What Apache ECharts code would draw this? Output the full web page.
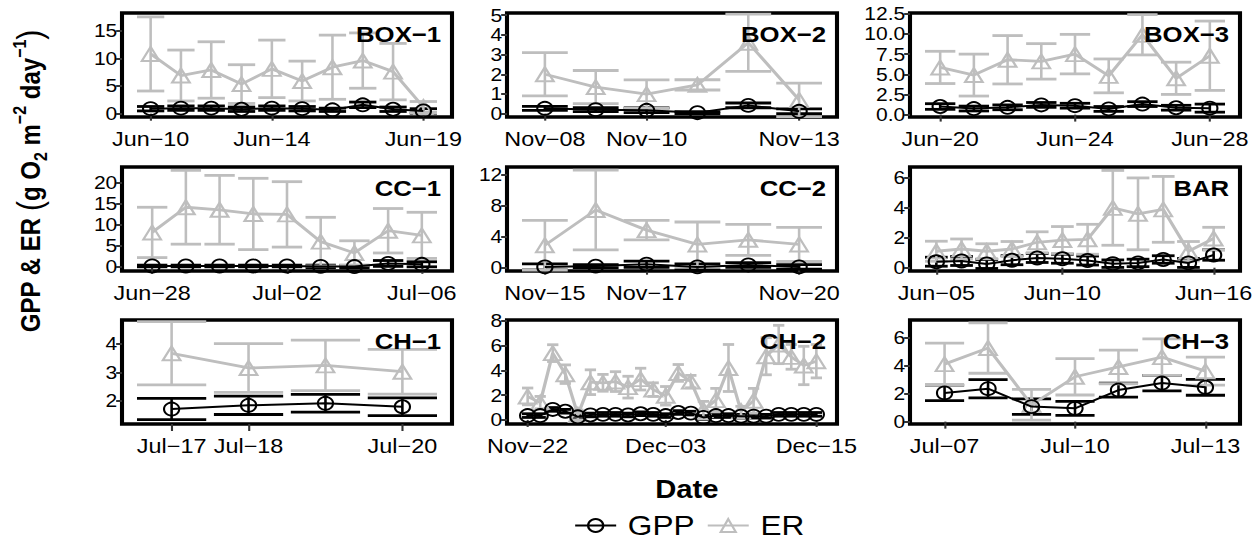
<!DOCTYPE html>
<html>
<head>
<meta charset="utf-8">
<script src="https://cdn.jsdelivr.net/npm/echarts@6/dist/echarts.min.js"></script>
<style>
  html, body { margin: 0; padding: 0; background: #fff; overflow: hidden; }
  #wrap { width: 1260px; height: 548px; overflow: hidden; }
  /* the figure is drawn on a narrower canvas and widened to the page width */
  #chart { height: 548px; transform-origin: 0 0; }
</style>
</head>
<body>
<div id="wrap"><div id="chart"></div></div>
<script>
// ---- Daily GPP and ER (g O2 m-2 day-1), mean and error per site ----

const box1Dates = ['2018-06-10','2018-06-11','2018-06-12','2018-06-13','2018-06-14','2018-06-15','2018-06-16','2018-06-17','2018-06-18','2018-06-19'];
const box1Gpp   = [0.9, 1.0, 1.0, 0.8, 1.0, 0.9, 0.7, 1.6, 0.8, 0.5];
const box1GppSd = [0.4, 0.4, 0.4, 0.4, 0.4, 0.4, 0.3, 0.5, 0.4, 0.4];
const box1Er    = [10.8, 6.9, 7.9, 5.35, 8.1, 5.9, 8.4, 9.6, 7.6, 1.2];
const box1ErSd  = [6.7, 4.6, 5.1, 3.5, 5.2, 3.6, 5.8, 5.0, 5.1, 1.0];
const box1XTicks = ['2018-06-10', '2018-06-14', '2018-06-19'];
const box1YTicks = ['0', '5', '10', '15'];

const box2Dates = ['2018-11-08','2018-11-09','2018-11-10','2018-11-11','2018-11-12','2018-11-13'];
const box2Gpp   = [0.27, 0.2, 0.17, 0.05, 0.42, 0.12];
const box2GppSd = [0.1, 0.1, 0.12, 0.05, 0.12, 0.12];
const box2Er    = [2.0, 1.35, 0.99, 1.46, 3.6, 0.7];
const box2ErSd  = [1.1, 0.84, 0.72, 0.26, 1.45, 0.85];
const box2XTicks = ['2018-11-08', '2018-11-10', '2018-11-13'];
const box2YTicks = ['0', '1', '2', '3', '4', '5'];

const box3Dates = ['2018-06-20','2018-06-21','2018-06-22','2018-06-23','2018-06-24','2018-06-25','2018-06-26','2018-06-27','2018-06-28'];
const box3Gpp   = [1.0, 0.75, 0.9, 1.2, 1.1, 0.7, 1.3, 0.85, 0.8];
const box3GppSd = [0.35, 0.3, 0.3, 0.3, 0.3, 0.3, 0.3, 0.3, 0.5];
const box3Er    = [5.85, 4.9, 6.8, 6.6, 7.5, 4.8, 9.9, 4.5, 7.3];
const box3ErSd  = [2.0, 2.6, 3.0, 2.2, 2.45, 2.1, 2.5, 2.0, 4.3];
const box3XTicks = ['2018-06-20', '2018-06-24', '2018-06-28'];
const box3YTicks = ['0.0', '2.5', '5.0', '7.5', '10.0', '12.5'];

const cc1Dates = ['2018-06-28','2018-06-29','2018-06-30','2018-07-01','2018-07-02','2018-07-03','2018-07-04','2018-07-05','2018-07-06'];
const cc1Gpp   = [0.2, 0.2, 0.2, 0.2, 0.2, 0.1, 0.05, 0.8, 0.6];
const cc1GppSd = [0.2, 0.2, 0.2, 0.2, 0.2, 0.3, 0.3, 0.7, 0.6];
const cc1Er    = [8.2, 14.2, 13.6, 12.6, 12.5, 6.0, 3.3, 8.6, 7.5];
const cc1ErSd  = [6.0, 8.8, 8.2, 8.5, 7.8, 5.8, 2.9, 5.3, 5.5];
const cc1XTicks = ['2018-06-28', '2018-07-02', '2018-07-06'];
const cc1YTicks = ['0', '5', '10', '15', '20'];

const cc2Dates = ['2018-11-15','2018-11-16','2018-11-17','2018-11-18','2018-11-19','2018-11-20'];
const cc2Gpp   = [0.1, 0.2, 0.45, 0.1, 0.35, 0.1];
const cc2GppSd = [0.4, 0.2, 0.4, 0.4, 0.3, 0.3];
const cc2Er    = [2.9, 7.45, 4.85, 3.0, 3.6, 3.0];
const cc2ErSd  = [3.2, 5.15, 1.25, 2.9, 2.0, 2.2];
const cc2XTicks = ['2018-11-15', '2018-11-17', '2018-11-20'];
const cc2YTicks = ['0', '4', '8', '12'];

const barDates = ['2018-06-05','2018-06-06','2018-06-07','2018-06-08','2018-06-09','2018-06-10','2018-06-11','2018-06-12','2018-06-13','2018-06-14','2018-06-15','2018-06-16'];
const barGpp   = [0.4, 0.45, 0.25, 0.5, 0.65, 0.6, 0.48, 0.27, 0.32, 0.55, 0.32, 0.85];
const barGppSd = [0.3, 0.3, 0.3, 0.3, 0.3, 0.3, 0.3, 0.25, 0.25, 0.25, 0.3, 0.35];
const barEr    = [1.1, 1.25, 1.1, 1.25, 1.7, 1.85, 1.9, 4.0, 3.6, 3.9, 1.1, 1.95];
const barErSd  = [0.67, 0.67, 0.5, 0.5, 0.7, 0.9, 1.0, 2.5, 2.4, 2.2, 0.65, 0.75];
const barXTicks = ['2018-06-05', '2018-06-10', '2018-06-16'];
const barYTicks = ['0', '2', '4', '6'];

const ch1Dates = ['2018-07-17','2018-07-18','2018-07-19','2018-07-20'];
const ch1Gpp   = [1.72, 1.85, 1.92, 1.8];
const ch1GppSd = [0.37, 0.32, 0.31, 0.31];
const ch1Er    = [3.66, 3.15, 3.24, 3.02];
const ch1ErSd  = [1.1, 0.85, 0.88, 0.78];
const ch1XTicks = ['2018-07-17', '2018-07-18', '2018-07-20'];
const ch1YTicks = ['2', '3', '4'];

const ch2Dates = ['2018-11-22','2018-11-23','2018-11-24','2018-11-25','2018-11-26','2018-11-27','2018-11-28','2018-11-29','2018-11-30','2018-12-01','2018-12-02','2018-12-03',
                  '2018-12-04','2018-12-05','2018-12-06','2018-12-07','2018-12-08','2018-12-09','2018-12-10','2018-12-11','2018-12-12','2018-12-13','2018-12-14','2018-12-15'];
const ch2Gpp   = [0.35, 0.35, 0.85, 0.7, 0.25, 0.4, 0.45, 0.45, 0.4, 0.5, 0.45, 0.35, 0.6, 0.55, 0.2, 0.35, 0.35, 0.3, 0.3, 0.3, 0.45, 0.45, 0.45, 0.45];
const ch2GppSd = [0.15, 0.15, 0.15, 0.15, 0.15, 0.15, 0.15, 0.15, 0.15, 0.15, 0.15, 0.15, 0.15, 0.15, 0.15, 0.15, 0.15, 0.15, 0.15, 0.15, 0.15, 0.15, 0.15, 0.15];
const ch2Er    = [1.9, 1.4, 5.4, 3.7, 0.4, 3.05, 3.0, 3.1, 2.65, 3.3, 2.45, 1.95, 3.8, 3.1, 0.8, 1.6, 4.2, 0.7, 1.55, 5.15, 6.1, 5.1, 4.4, 4.75];
const ch2ErSd  = [0.68, 0.5, 0.68, 0.75, 0.4, 1.0, 0.68, 0.8, 0.88, 0.88, 0.55, 0.75, 0.68, 0.5, 0.7, 0.95, 1.9, 0.4, 1.0, 1.5, 1.55, 1.0, 1.55, 1.35];
const ch2XTicks = ['2018-11-22', '2018-12-03', '2018-12-15'];
const ch2YTicks = ['0', '2', '4', '6', '8'];

const ch3Dates = ['2018-07-07','2018-07-08','2018-07-09','2018-07-10','2018-07-11','2018-07-12','2018-07-13'];
const ch3Gpp   = [2.05, 2.35, 1.07, 0.95, 2.25, 2.75, 2.45];
const ch3GppSd = [0.55, 0.65, 0.55, 0.5, 0.5, 0.55, 0.57];
const ch3Er    = [4.1, 5.25, 1.2, 3.2, 3.9, 4.6, 3.6];
const ch3ErSd  = [1.5, 1.8, 1.1, 1.3, 1.2, 1.3, 1.0];
const ch3XTicks = ['2018-07-07', '2018-07-10', '2018-07-13'];
const ch3YTicks = ['0', '2', '4', '6'];

// Visible value range of each panel's y axis
const yLimits = [[-0.6, 18.2], [-0.17, 5.11], [-0.3, 12.6],
                 [-1.0, 23.8], [-0.43, 13.0], [-0.22, 6.73],
                 [1.2, 4.82], [-0.33, 8.08], [-0.17, 7.25]];

const panels = [
  { name: 'BOX\u22121', dates: box1Dates, gpp: box1Gpp, gppSd: box1GppSd, er: box1Er, erSd: box1ErSd, xTicks: box1XTicks, yTicks: box1YTicks },
  { name: 'BOX\u22122', dates: box2Dates, gpp: box2Gpp, gppSd: box2GppSd, er: box2Er, erSd: box2ErSd, xTicks: box2XTicks, yTicks: box2YTicks },
  { name: 'BOX\u22123', dates: box3Dates, gpp: box3Gpp, gppSd: box3GppSd, er: box3Er, erSd: box3ErSd, xTicks: box3XTicks, yTicks: box3YTicks },
  { name: 'CC\u22121',  dates: cc1Dates,  gpp: cc1Gpp,  gppSd: cc1GppSd,  er: cc1Er,  erSd: cc1ErSd,  xTicks: cc1XTicks,  yTicks: cc1YTicks },
  { name: 'CC\u22122',  dates: cc2Dates,  gpp: cc2Gpp,  gppSd: cc2GppSd,  er: cc2Er,  erSd: cc2ErSd,  xTicks: cc2XTicks,  yTicks: cc2YTicks },
  { name: 'BAR',        dates: barDates,  gpp: barGpp,  gppSd: barGppSd,  er: barEr,  erSd: barErSd,  xTicks: barXTicks,  yTicks: barYTicks },
  { name: 'CH\u22121',  dates: ch1Dates,  gpp: ch1Gpp,  gppSd: ch1GppSd,  er: ch1Er,  erSd: ch1ErSd,  xTicks: ch1XTicks,  yTicks: ch1YTicks },
  { name: 'CH\u22122',  dates: ch2Dates,  gpp: ch2Gpp,  gppSd: ch2GppSd,  er: ch2Er,  erSd: ch2ErSd,  xTicks: ch2XTicks,  yTicks: ch2YTicks },
  { name: 'CH\u22123',  dates: ch3Dates,  gpp: ch3Gpp,  gppSd: ch3GppSd,  er: ch3Er,  erSd: ch3ErSd,  xTicks: ch3XTicks,  yTicks: ch3YTicks }
];

// ---- Layout (page pixels; divided by the horizontal stretch for the canvas) ----
const STRETCH = 1.17;
const PAGE_W = 1260;
const CANVAS_W = PAGE_W / STRETCH;
const sx = function (v) { return v / STRETCH; };

const FONT = '"Liberation Sans", Arial, Helvetica, sans-serif';
const colLeft = [122, 507, 910];
const colWidth = 330;
const rowTop = [13, 167, 320];
const rowHeight = 104;
const GPP_COLOR = '#000000';
const ER_COLOR = '#bebebe';
const CAP_DAYS = 0.9;          // error bar cap width in days
const MONTHS = ['Jan','Feb','Mar','Apr','May','Jun','Jul','Aug','Sep','Oct','Nov','Dec'];

const chartEl = document.getElementById('chart');
chartEl.style.width = CANVAS_W + 'px';
chartEl.style.transform = 'scaleX(' + STRETCH + ')';

const DAY_MS = 86400000;
function toDay(s) {
  const p = s.split('-').map(Number);
  return Date.UTC(p[0], p[1] - 1, p[2]) / DAY_MS;
}
function dayLabel(d) {
  const dt = new Date(Math.round(d) * DAY_MS);
  const dd = String(dt.getUTCDate()).padStart(2, '0');
  return MONTHS[dt.getUTCMonth()] + '\u2212' + dd;
}

function errorBarRenderer(color) {
  return function (params, api) {
    const x = api.value(0), lo = api.value(1), hi = api.value(2);
    const pLo = api.coord([x, lo]);
    const pHi = api.coord([x, hi]);
    const pL = api.coord([x - CAP_DAYS / 2, lo]);
    const pR = api.coord([x + CAP_DAYS / 2, lo]);
    const half = (pR[0] - pL[0]) / 2;
    const capStyle = { stroke: color, lineWidth: 2.8, fill: null };
    return {
      type: 'group',
      children: [
        { type: 'line', shape: { x1: pLo[0], y1: pLo[1], x2: pHi[0], y2: pHi[1] }, style: { stroke: color, lineWidth: 2.2, fill: null } },
        { type: 'line', shape: { x1: pLo[0] - half, y1: pLo[1], x2: pLo[0] + half, y2: pLo[1] }, style: capStyle },
        { type: 'line', shape: { x1: pHi[0] - half, y1: pHi[1], x2: pHi[0] + half, y2: pHi[1] }, style: capStyle }
      ]
    };
  };
}

const grids = [], xAxes = [], yAxes = [], series = [], titles = [];

panels.forEach(function (p, i) {
  const col = i % 3, row = Math.floor(i / 3);
  const left = sx(colLeft[col]);
  const width = sx(colWidth);
  const top = rowTop[row];
  grids.push({
    left: left, top: top, width: width, height: rowHeight,
    show: true, borderColor: '#000', borderWidth: 3.5, backgroundColor: '#fff'
  });

  const days = p.dates.map(toDay);
  const lo = days[0] - CAP_DAYS / 2, hi = days[days.length - 1] + CAP_DAYS / 2;
  const pad = (hi - lo) * 0.05;
  const xTickDays = p.xTicks.map(toDay);
  const yTickVals = p.yTicks.map(Number);

  xAxes.push({
    type: 'value', gridIndex: i, min: lo - pad, max: hi + pad,
    axisLine: { show: false },
    splitLine: { show: false },
    axisTick: { show: true, length: 7, inside: false, customValues: xTickDays,
                lineStyle: { color: '#333', width: 1.8 } },
    axisLabel: { customValues: xTickDays, formatter: dayLabel, margin: 12,
                 color: '#000', fontSize: 20, fontFamily: FONT, showMinLabel: true, showMaxLabel: true }
  });
  yAxes.push({
    type: 'value', gridIndex: i, min: yLimits[i][0], max: yLimits[i][1],
    axisLine: { show: false },
    splitLine: { show: false },
    axisTick: { show: true, length: 5, inside: false, customValues: yTickVals,
                lineStyle: { color: '#333', width: 2 } },
    axisLabel: { customValues: yTickVals, margin: 4, color: '#000', fontSize: 18, lineHeight: 16,
                 fontFamily: FONT, showMinLabel: true, showMaxLabel: true, hideOverlap: false,
                 formatter: function (v) {
                   const k = yTickVals.findIndex(function (t) { return Math.abs(t - v) < 1e-9; });
                   return k >= 0 ? p.yTicks[k] : '';
                 } }
  });

  const gppBars = days.map(function (d, k) { return [d, p.gpp[k] - p.gppSd[k], p.gpp[k] + p.gppSd[k]]; });
  const erBars  = days.map(function (d, k) { return [d, p.er[k] - p.erSd[k], p.er[k] + p.erSd[k]]; });

  series.push({
    type: 'custom', xAxisIndex: i, yAxisIndex: i, renderItem: errorBarRenderer(GPP_COLOR),
    data: gppBars, encode: { x: 0, y: [1, 2] }, z: 1, silent: true
  });
  series.push({
    type: 'custom', xAxisIndex: i, yAxisIndex: i, renderItem: errorBarRenderer(ER_COLOR),
    data: erBars, encode: { x: 0, y: [1, 2] }, z: 1, silent: true
  });
  series.push({
    name: 'GPP', type: 'line', xAxisIndex: i, yAxisIndex: i,
    data: days.map(function (d, k) { return [d, p.gpp[k]]; }),
    symbol: 'circle', symbolSize: 13, showSymbol: true,
    lineStyle: { color: GPP_COLOR, width: 2 },
    itemStyle: { color: 'rgba(0,0,0,0)', borderColor: GPP_COLOR, borderWidth: 1.8 },
    z: 3, clip: false
  });
  series.push({
    name: 'ER', type: 'line', xAxisIndex: i, yAxisIndex: i,
    data: days.map(function (d, k) { return [d, p.er[k]]; }),
    symbol: 'triangle', symbolSize: [15, 14], showSymbol: true,
    lineStyle: { color: ER_COLOR, width: 2.8 },
    itemStyle: { color: 'rgba(0,0,0,0)', borderColor: ER_COLOR, borderWidth: 2 },
    z: 2, clip: false
  });

  titles.push({
    text: p.name, right: CANVAS_W - (left + width) + sx(5), top: top + 5,
    textStyle: { fontFamily: FONT, fontWeight: 'bold', fontSize: 22, color: '#000' }
  });
});

titles.push({
  text: 'Date', left: sx((colLeft[0] + colLeft[2] + colWidth) / 2), top: 472, textAlign: 'center',
  textStyle: { fontFamily: FONT, fontWeight: 'bold', fontSize: 25, color: '#000' }
});

const chart = echarts.init(chartEl, null, { renderer: 'svg', width: CANVAS_W, height: 548 });
chart.setOption({
  animation: false,
  backgroundColor: '#fff',
  title: titles,
  grid: grids,
  xAxis: xAxes,
  yAxis: yAxes,
  series: series,
  legend: {
    data: ['GPP', 'ER'], left: sx(574), top: 512, padding: 0,
    itemWidth: sx(41), itemHeight: 16, itemGap: sx(12),
    textStyle: { fontFamily: FONT, fontSize: 27, color: '#000', padding: [0, 0, 0, 5] },
    selectedMode: false
  },
  graphic: [{
    type: 'text', x: sx(30), y: 181, rotation: Math.PI / 2,
    style: {
      text: '{b|GPP & ER }{p|(}{b|g O}{sub|2}{b| m}{sup|\u22122}{b| day}{sup|\u22121}{p|)}',
      align: 'center', verticalAlign: 'middle', fill: '#000',
      rich: {
        b:   { fontFamily: FONT, fontWeight: 'bold', fontSize: 24, lineHeight: 34, verticalAlign: 'middle' },
        p:   { fontFamily: FONT, fontSize: 30, lineHeight: 34, verticalAlign: 'middle' },
        sub: { fontFamily: FONT, fontWeight: 'bold', fontSize: 16, lineHeight: 34, verticalAlign: 'bottom' },
        sup: { fontFamily: FONT, fontWeight: 'bold', fontSize: 16, lineHeight: 34, verticalAlign: 'top' }
      }
    }
  }]
});
</script>
</body>
</html>
